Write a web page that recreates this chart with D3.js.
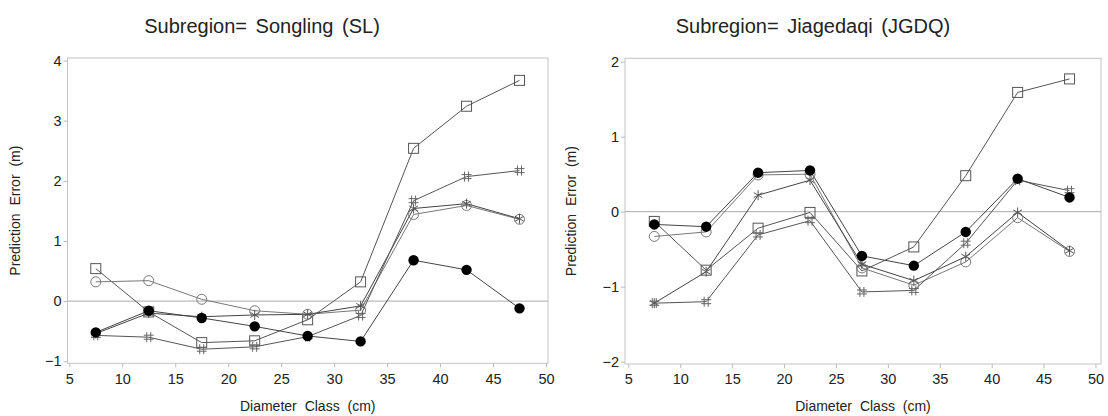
<!DOCTYPE html>
<html>
<head>
<meta charset="utf-8">
<script src="https://cdn.jsdelivr.net/npm/d3@7"></script>
<style>
  body { margin: 0; background: #fff; }
  text { font-family: "Liberation Sans", Arial, sans-serif; fill: #222; }
</style>
</head>
<body>
<div id="chart"></div>
<script>
// Diameter classes (cm)
const diameterClass = [7.5, 12.5, 17.5, 22.5, 27.5, 32.5, 37.5, 42.5, 47.5];
const xTicks = [5, 10, 15, 20, 25, 30, 35, 40, 45, 50];

// Subregion Songling (SL)
const slTicks = [-1, 0, 1, 2, 3, 4];
const slSquare = [0.54, -0.18, -0.69, -0.66, -0.31, 0.32, 2.54, 3.24, 3.67];
const slCircle = [0.32, 0.34, 0.03, -0.16, -0.22, -0.15, 1.44, 1.59, 1.36];
const slDot    = [-0.52, -0.16, -0.28, -0.42, -0.58, -0.67, 0.68, 0.52, -0.12];
const slStar   = [-0.54, -0.20, -0.26, -0.23, -0.22, -0.08, 1.54, 1.62, 1.37];
const slHash   = [-0.57, -0.60, -0.80, -0.76, -0.59, -0.24, 1.67, 2.07, 2.17];

// Subregion Jiagedaqi (JGDQ)
const jgTicks = [-2, -1, 0, 1, 2];
const jgSquare = [-0.13, -0.78, -0.22, -0.01, -0.79, -0.47, 0.48, 1.59, 1.77];
const jgCircle = [-0.33, -0.27, 0.49, 0.50, -0.75, -0.98, -0.67, -0.08, -0.53];
const jgDot    = [-0.17, -0.20, 0.52, 0.55, -0.59, -0.72, -0.27, 0.44, 0.19];
const jgStar   = [-1.22, -0.80, 0.22, 0.42, -0.70, -0.92, -0.60, -0.01, -0.52];
const jgHash   = [-1.22, -1.20, -0.31, -0.12, -1.07, -1.05, -0.42, 0.42, 0.28];

const svg = d3.select("#chart").append("svg")
  .attr("width", 1108)
  .attr("height", 416);

const fmt = d => d < 0 ? "\u2212" + Math.abs(d) : String(d);

// draw a marker of a given kind at (0,0) inside group g
function marker(g, kind) {
  if (kind === "square") {
    g.append("rect").attr("x", -5).attr("y", -5).attr("width", 10).attr("height", 10)
      .attr("fill", "none").attr("stroke", "#555").attr("stroke-width", 1);
  } else if (kind === "circle") {
    g.append("circle").attr("r", 5).attr("fill", "none")
      .attr("stroke", "#777").attr("stroke-width", 1);
  } else if (kind === "dot") {
    g.append("circle").attr("r", 5.2).attr("fill", "#000");
  } else if (kind === "star") {
    const p = "M0,-5V5M-4.3,-2.5L4.3,2.5M-4.3,2.5L4.3,-2.5";
    g.append("path").attr("d", p).attr("stroke", "#555").attr("fill", "none");
  } else if (kind === "hash") {
    const p = "M-2,-5V5M2,-5V5M-5,-2H5M-5,2H5";
    g.append("path").attr("d", p).attr("stroke", "#666").attr("fill", "none");
  }
}

function drawPanel(cfg) {
  const x = d3.scaleLinear().domain(cfg.xDomain).range([cfg.left, cfg.right]);
  const y = d3.scaleLinear().domain(cfg.yDomain).range([cfg.bottom, cfg.top]);
  const g = svg.append("g");

  // title
  g.append("text")
    .attr("x", cfg.titleX).attr("y", 33)
    .attr("text-anchor", "middle")
    .style("font-size", "20px")
    .style("word-spacing", "3px")
    .text(cfg.title);

  // axes
  const ax = g.append("g").attr("transform", `translate(0,${cfg.bottom})`)
    .call(d3.axisBottom(x).tickValues(xTicks).tickSize(4).tickPadding(6).tickFormat(d => d));
  const ay = g.append("g").attr("transform", `translate(${cfg.left},0)`)
    .call(d3.axisLeft(y).tickValues(cfg.yTicks).tickSize(4).tickPadding(2).tickFormat(fmt));
  [ax, ay].forEach(a => {
    a.select(".domain").remove();
    a.selectAll(".tick line").attr("stroke", "#bbb");
    a.selectAll(".tick text").style("font-size", "14.5px").attr("fill", "#222");
  });

  // frame
  g.append("rect")
    .attr("x", cfg.left).attr("y", cfg.top)
    .attr("width", cfg.right - cfg.left).attr("height", cfg.bottom - cfg.top)
    .attr("fill", "none").attr("stroke", "#c4c4c4");

  // zero reference line
  g.append("line")
    .attr("x1", cfg.left).attr("x2", cfg.right)
    .attr("y1", y(0)).attr("y2", y(0))
    .attr("stroke", "#aaa");

  // axis labels
  g.append("text")
    .attr("x", (cfg.left + cfg.right) / 2).attr("y", 411)
    .attr("text-anchor", "middle")
    .style("font-size", "14px").style("word-spacing", "4px")
    .text("Diameter Class (cm)");
  g.append("text")
    .attr("transform", `translate(${cfg.yLabelX},${(cfg.top + cfg.bottom) / 2}) rotate(-90)`)
    .attr("text-anchor", "middle")
    .style("font-size", "14px").style("word-spacing", "4px")
    .text("Prediction Error (m)");

  const line = d3.line().x((d, i) => x(diameterClass[i])).y(d => y(d));

  cfg.series.forEach(s => {
    g.append("path").datum(s.values)
      .attr("d", line)
      .attr("fill", "none")
      .attr("stroke", s.lineColor)
      .attr("stroke-width", 1);
  });
  cfg.series.forEach(s => {
    s.values.forEach((v, i) => {
      const m = g.append("g").attr("transform", `translate(${x(diameterClass[i])},${y(v)})`);
      marker(m, s.kind);
    });
  });
}

drawPanel({
  title: "Subregion= Songling  (SL)",
  titleX: 262,
  left: 67.5, right: 548, top: 58, bottom: 363.3,
  xDomain: [4.83, 50.19], yDomain: [-1.034, 4.042],
  yTicks: slTicks, yLabelX: 20,
  series: [
    { kind: "square", values: slSquare, lineColor: "#555" },
    { kind: "circle", values: slCircle, lineColor: "#777" },
    { kind: "star", values: slStar, lineColor: "#444" },
    { kind: "hash", values: slHash, lineColor: "#555" },
    { kind: "dot", values: slDot, lineColor: "#444" }
  ]
});

drawPanel({
  title: "Subregion= Jiagedaqi  (JGDQ)",
  titleX: 813,
  left: 625, right: 1101, top: 58.3, bottom: 364,
  xDomain: [4.68, 50.53], yDomain: [-2.031, 2.045],
  yTicks: jgTicks, yLabelX: 576,
  series: [
    { kind: "square", values: jgSquare, lineColor: "#555" },
    { kind: "circle", values: jgCircle, lineColor: "#777" },
    { kind: "star", values: jgStar, lineColor: "#444" },
    { kind: "hash", values: jgHash, lineColor: "#555" },
    { kind: "dot", values: jgDot, lineColor: "#444" }
  ]
});
</script>
</body>
</html>
